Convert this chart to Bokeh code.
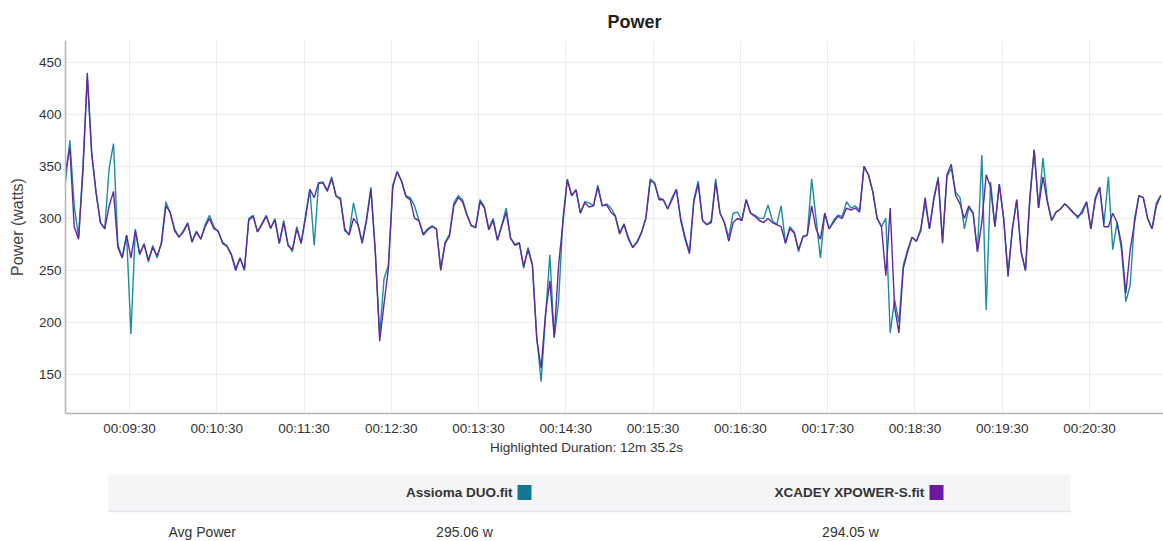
from bokeh.plotting import figure
from bokeh.models import Range1d, FixedTicker
from bokeh.layouts import column
from bokeh.embed import file_html
from bokeh.resources import INLINE
from bokeh.core.properties import value

# ---------------- data ----------------
start_sec = 526          # 00:08:46
step_sec = 3
window_sec = 755.2       # 12m 35.2s

assioma_w = [
    335, 375, 312, 282, 350, 435, 364, 325, 296, 290, 348, 372, 275, 262, 284, 189, 290, 265, 276, 258,
    274, 262, 278, 316, 305, 290, 282, 288, 296, 278, 288, 280, 294, 303, 292, 287, 277, 274, 266, 252,
    262, 250, 300,
    303, 287, 295, 303, 290, 300, 276, 298, 275, 268, 292, 276, 303, 328, 274, 334, 335, 327, 340, 321,
    320, 288, 285, 315, 295, 278, 300, 330, 268, 188, 242, 255, 332, 345, 336, 322, 320, 312, 298, 285,
    290,
    293, 290, 252, 277, 285, 315, 322, 318, 304, 293, 292, 318, 311, 290, 300, 279, 294, 310, 281, 275,
    277, 252, 272, 256, 186, 143, 205, 265, 185, 220, 300, 338, 322, 328, 305, 316, 315, 312, 332, 312,
    314,
    310, 303, 286, 295, 282, 272, 278, 287, 300, 338, 334, 320, 318, 309, 320, 328, 300, 282, 268, 318,
    336, 298, 294, 298, 338, 305, 296, 282, 305, 306, 298, 318, 305, 303, 300, 300, 313, 298, 294, 312,
    276, 292, 287, 268, 283, 284, 338, 300, 262, 305, 290, 298, 303, 302, 316, 310, 312, 308, 350, 342,
    326, 300, 292, 300, 190, 222, 200, 255, 270, 282, 278, 290, 315, 290, 320, 340, 278, 340, 348, 325,
    320,
    290, 310, 305, 268, 361, 212, 335, 292, 333, 300, 248, 290, 318, 268, 250, 320, 366, 310, 358, 318,
    298, 306, 309, 314, 310, 306, 300, 308, 316, 290, 320, 330, 295, 340, 270, 296, 270, 220, 236, 300,
    322, 320, 300, 290, 315, 322,
]

xcadey_w = [
    345, 368, 292, 280, 345, 440, 362, 325, 296, 290, 312, 326, 272, 262, 284, 262, 288, 266, 275, 260,
    272, 264, 276, 312, 306, 288, 282, 287, 295, 277, 287, 280, 292, 300, 290, 288, 276, 273, 265, 250,
    262, 251, 298,
    302, 287, 294, 302, 291, 298, 276, 296, 274, 270, 290, 276, 300, 328, 320, 334, 334, 326, 338, 322,
    318, 290, 284, 300, 294, 276, 298, 328, 268, 182, 218, 252, 330, 345, 336, 321, 318, 300, 298, 284,
    289,
    292, 290, 250, 276, 283, 312, 320, 316, 303, 293, 291, 316, 310, 289, 298, 279, 293, 306, 281, 274,
    276, 254, 270, 255, 184, 156, 208, 240, 186, 255, 296, 337, 322, 327, 305, 315, 311, 312, 330, 312,
    313,
    306, 302, 285, 294, 280, 272, 277, 286, 300, 336, 334, 318, 318, 309, 318, 328, 298, 280, 266, 316,
    333, 298, 294, 296, 335, 305, 296, 278, 296, 300, 298, 318, 305, 302, 298, 296, 300, 296, 294, 292,
    276, 290, 286, 270, 282, 284, 312, 290, 280, 305, 290, 296, 302, 300, 310, 308, 310, 306, 350, 342,
    326, 300, 292, 245, 310, 215, 190, 252, 268, 282, 278, 288, 320, 290, 318, 338, 276, 342, 352, 322,
    314,
    300, 312, 305, 268, 296, 342, 330, 292, 333, 300, 244, 290, 318, 268, 250, 318, 366, 310, 340, 316,
    298, 306, 309, 314, 310, 305, 302, 305, 316, 290, 318, 330, 292, 292, 305, 296, 275, 228, 270, 296,
    322, 320, 300, 290, 312, 322,
]

tick_labels = ["00:09:30", "00:10:30", "00:11:30", "00:12:30", "00:13:30", "00:14:30",
               "00:15:30", "00:16:30", "00:17:30", "00:18:30", "00:19:30", "00:20:30"]
y_ticks = [150, 200, 250, 300, 350, 400, 450]

series_names = ["Assioma DUO.fit", "XCADEY XPOWER-S.fit"]
avg_label = "Avg Power"
avg_values = ["295.06 w", "294.05 w"]
duration_text = "Highlighted Duration: 12m 35.2s"
chart_title = "Power"
y_label = "Power (watts)"

# ---------------- styles ----------------
TEAL = "#1c8ba4"
PURPLE = "#5f2a9e"
TEAL_SQ = "#137791"
PURPLE_SQ = "#6c18a0"
FONT = "Liberation Sans"
TXT = "#333333"

n = min(len(assioma_w), len(xcadey_w))
seconds = [start_sec + step_sec * i for i in range(n)]


def to_sec(s):
    h, m, x = (int(v) for v in s.split(":"))
    return h * 3600 + m * 60 + x


tick_secs = [to_sec(s) for s in tick_labels]

# ---------------- main chart ----------------
W = 1163
FRAME_LEFT = 65
frame_w = W - FRAME_LEFT
px_per_sec = 1.4545

p = figure(width=W, height=438, output_backend="svg", toolbar_location=None,
           x_range=Range1d(start_sec, start_sec + frame_w / px_per_sec),
           y_range=Range1d(112.5, 471),
           min_border_left=FRAME_LEFT, min_border_right=0,
           min_border_top=40, min_border_bottom=24)

p.title.text = chart_title
p.title.align = "left"
p.title.offset = 607 - FRAME_LEFT
p.title.standoff = 18
p.title.text_font = FONT
p.title.text_font_size = "18px"
p.title.text_font_style = "bold"
p.title.text_color = "#222222"

p.outline_line_color = None
p.background_fill_color = "white"

p.line(seconds, assioma_w[:n], line_color=TEAL, line_width=1.4)
p.line(seconds, xcadey_w[:n], line_color=PURPLE, line_width=1.4)

xa = p.xaxis[0]
xa.ticker = FixedTicker(ticks=tick_secs)
xa.major_label_overrides = {t: lab for t, lab in zip(tick_secs, tick_labels)}
ya = p.yaxis[0]
ya.ticker = FixedTicker(ticks=y_ticks)
ya.axis_label = y_label

for ax in (xa, ya):
    ax.axis_line_color = "#b5b5b5"
    ax.axis_line_width = 1.5
    ax.major_tick_line_color = None
    ax.minor_tick_line_color = None
    ax.major_tick_out = 0
    ax.major_tick_in = 0
    ax.major_label_text_font = FONT
    ax.major_label_text_color = TXT
    ax.major_label_text_font_size = "13.5px"

xa.major_label_standoff = 7
ya.major_label_standoff = 4
ya.axis_label_text_font = FONT
ya.axis_label_text_font_size = "16px"
ya.axis_label_text_font_style = "normal"
ya.axis_label_text_color = "#444444"
ya.axis_label_standoff = 10

p.xgrid.grid_line_color = "#ececec"
p.ygrid.grid_line_color = "#ececec"

# ---------------- summary table (local x = page x, local y = page y - 438) ----------------
H2 = 103
t = figure(width=W, height=H2, output_backend="svg", toolbar_location=None,
           x_range=Range1d(FRAME_LEFT, W), y_range=Range1d(H2, 0),
           min_border=0, min_border_left=FRAME_LEFT, min_border_right=0,
           min_border_top=0, min_border_bottom=0)
t.axis.visible = False
t.grid.visible = False
t.outline_line_color = None

t.text(x=[586], y=[9], text=[duration_text], text_align="center", text_baseline="middle",
       text_font=value(FONT), text_font_size="13.5px", text_color=TXT)

t.quad(left=[108], right=[1070], top=[36], bottom=[73], fill_color="#f4f5f7", line_color=None)
t.segment(x0=[108], y0=[73], x1=[1070], y1=[73], line_color="#e3e5e8", line_width=1.5)

t.text(x=[512, 924], y=[54, 54], text=series_names, text_align="right", text_baseline="middle",
       text_font=value(FONT), text_font_size="13.5px", text_font_style="bold", text_color=TXT)
t.rect(x=[524, 936], y=[54, 54], width=14, height=15, fill_color=[TEAL_SQ, PURPLE_SQ], line_color=None)

t.text(x=[168], y=[93], text=[avg_label], text_align="left", text_baseline="middle",
       text_font=value(FONT), text_font_size="14px", text_color=TXT)
t.text(x=[464, 850], y=[93, 93], text=avg_values, text_align="center", text_baseline="middle",
       text_font=value(FONT), text_font_size="14px", text_color=TXT)

layout = column(p, t, spacing=0)
open("out.html", "w").write(file_html(layout, INLINE))
